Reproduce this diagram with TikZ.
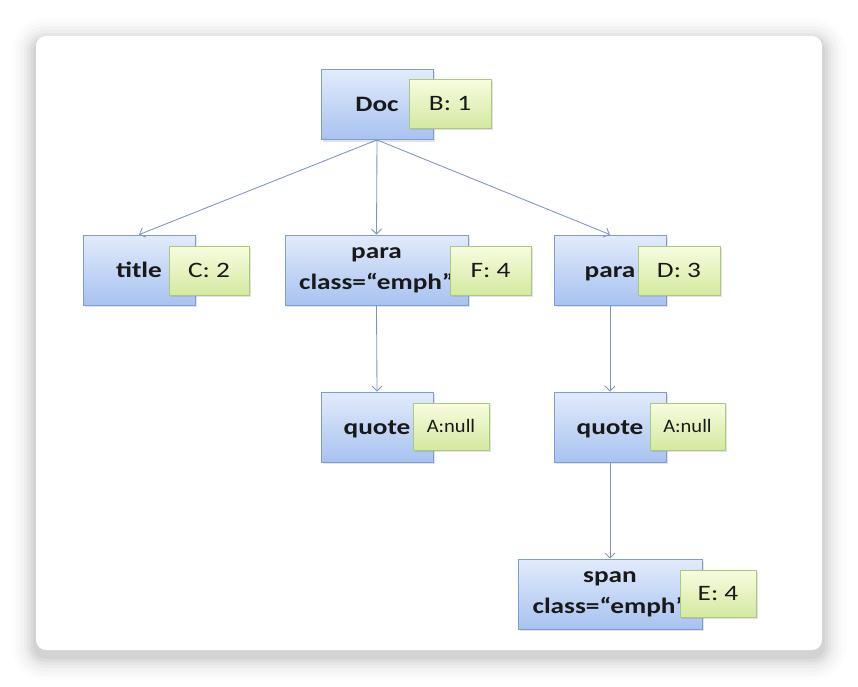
\documentclass[tikz,border=0pt]{standalone}
\usepackage{fontspec}
\newfontfamily\lblfont[FakeStretch=1.24]{Carlito}
\newfontfamily\smallfont[FakeStretch=1.08]{Carlito}
\usetikzlibrary{arrows.meta,shadows}
\definecolor{bluetop}{HTML}{E2EBFB}
\definecolor{bluebot}{HTML}{A8C2F0}
\definecolor{blueline}{HTML}{7F9DCF}
\definecolor{greentop}{HTML}{F8FCE0}
\definecolor{greenbot}{HTML}{D3E9A0}
\definecolor{greenline}{HTML}{A9C97C}
\definecolor{arrowcol}{HTML}{7B96C6}
\tikzset{
  bluebox/.style={draw=blueline, line width=0.8pt, top color=bluetop, bottom color=bluebot,
    minimum height=70pt, inner sep=0pt, align=center,
    font=\lblfont\bfseries\fontsize{22}{31}\selectfont, text=black!90,
    drop shadow={shadow xshift=1.5pt, shadow yshift=-2pt, opacity=0.22}},
  oneline/.style={text height=15pt, text depth=1pt},
  greenbox/.style={draw=greenline, line width=0.8pt, top color=greentop, bottom color=greenbot,
    minimum height=49pt, inner sep=0pt, text height=15pt, text depth=1pt,
    font=\lblfont\fontsize{22}{25}\selectfont, text=black!90,
    drop shadow={shadow xshift=1.5pt, shadow yshift=-2pt, opacity=0.22}},
  nullbox/.style={greenbox, minimum height=47pt, text height=13pt, text depth=1pt, font=\smallfont\fontsize{19}{22}\selectfont},
  conn/.style={draw=arrowcol, line width=0.85pt, -{Straight Barb[length=5pt,width=10pt]}}
}
\begin{document}
\begin{tikzpicture}[x=1pt,y=-1pt]
\useasboundingbox (0,0) rectangle (858,686);
\fill[white] (0,0) rectangle (858,686);
% card shadow
\foreach \d/\o in {24/0.012,20/0.015,16/0.02,12/0.025,9/0.03,6/0.035,3/0.04}{
  \fill[black, opacity=\o, rounded corners={10pt+\d pt}] (36-\d,36-\d+6) rectangle (822+\d,650+\d+6);
}
\fill[white, rounded corners=10pt] (36,36) rectangle (822,650);

% blue nodes
\node[bluebox, oneline, minimum width=112pt] (doc) at (377,104.5) {Doc};
\node[bluebox, oneline, minimum width=112pt] (title) at (139,270) {title};
\node[bluebox, minimum width=183pt] (para1) at (376.5,270) {para\\class=“emph”};
\node[bluebox, oneline, minimum width=112pt] (para2) at (610,270) {para};
\node[bluebox, oneline, minimum width=112pt] (quote1) at (377,427) {quote};
\node[bluebox, oneline, minimum width=112pt] (quote2) at (610,427) {quote};
\node[bluebox, minimum width=184pt] (span) at (610,594) {span\\class=“emph”};

% green labels
\node[greenbox, minimum width=82pt] (b) at (450,103.5) {B: 1};
\node[greenbox, minimum width=80pt] (c) at (209,270.5) {C: 2};
\node[greenbox, minimum width=81pt] (f) at (490.5,270.5) {F: 4};
\node[greenbox, minimum width=82pt] (d) at (679,270.5) {D: 3};
\node[nullbox, minimum width=76pt] (a1) at (451,426.5) {A:null};
\node[nullbox, minimum width=75pt] (a2) at (687.5,426.5) {A:null};
\node[greenbox, minimum width=76pt, minimum height=47pt] (e) at (718,593.5) {E: 4};

% connectors
\draw[conn] (doc.south) -- (title.north);
\draw[conn] (doc.south) -- (para1.north);
\draw[conn] (doc.south) -- (para2.north);
\draw[conn] (para1.south) -- (quote1.north);
\draw[conn] (para2.south) -- (quote2.north);
\draw[conn] (quote2.south) -- (span.north);
\end{tikzpicture}
\end{document}
